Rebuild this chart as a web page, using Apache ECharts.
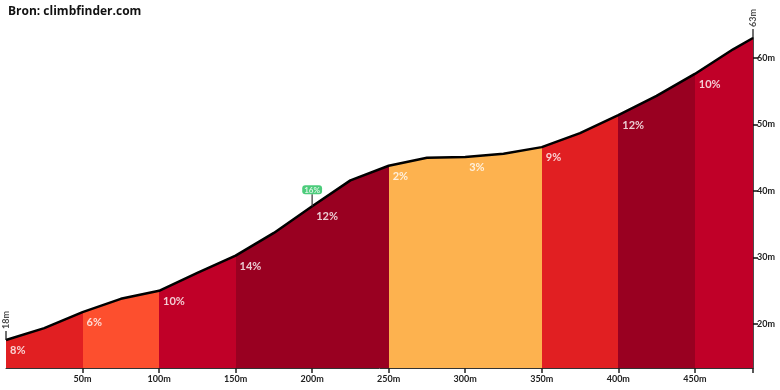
<!DOCTYPE html>
<html><head><meta charset="utf-8">
<script src="https://cdn.jsdelivr.net/npm/echarts@6/dist/echarts.min.js"></script>
<style>html,body{margin:0;padding:0;background:#fff}#c{width:780px;height:390px}</style>
</head><body><div id="c"></div>
<script>
const dist = [0,25,50,75,100,125,150,175,200,225,250,275,300,325,350,375,400,425,450,475,488];
const elev = [17.6,19.4,21.8,23.8,25.0,27.7,30.3,33.7,37.7,41.6,43.8,45.0,45.1,45.6,46.6,48.7,51.4,54.3,57.6,61.3,63.0];
const segStart = [0,50,100,150,200,250,300,350,400,450];
const segEnd   = [50,100,150,200,250,300,350,400,450,488];
const segGrade = ['8%','6%','10%','14%','12%','2%','3%','9%','12%','10%'];
const segColor = ['#e11f22','#fd4f2e','#c00028','#990021','#990021','#fdb24f','#fdb24f','#e11f22','#990021','#c00028'];
const maxGrade = {d:200, text:'16%'};
const xTicks = [50,100,150,200,250,300,350,400,450];
const yTicks = [20,30,40,50,60];
const FONT = 'Lato';

function elevAt(d){ return elev[dist.indexOf(d)]; }
const profile = dist.map((d,j)=>[d,elev[j]]);

const series = [];
series.push({type:'line', data:profile, symbol:'none', silent:true, z:1,
  lineStyle:{width:0}, areaStyle:{opacity:1, origin:'start'}});
series.push({type:'line', data:profile, symbol:'none', z:3,
  lineStyle:{color:'#000', width:2.5}});
series.push({type:'scatter', z:4, clip:false, symbolSize:0,
  data:segStart.map((s,i)=>[s, elevAt(s), segGrade[i]]),
  label:{show:true, position:[4,5], formatter:p=>p.value[2], color:'#fff',
    fontFamily:FONT, fontWeight:'bold', fontSize:11}});
series.push({type:'scatter', z:5, clip:false, symbol:'rect', symbolSize:[1.5,12], symbolOffset:[0,'-50%'],
  itemStyle:{color:'#333'},
  data:[[maxGrade.d, elevAt(maxGrade.d), maxGrade.text]],
  label:{show:true, position:'top', distance:0, formatter:p=>p.value[2], color:'#fff',
    backgroundColor:'#1fbf5a', borderRadius:3, padding:[1,2,0,2], fontFamily:FONT, fontWeight:'bold', fontSize:8}});
const ends = [[dist[0], elev[0], Math.round(elev[0])+'m'], [dist[dist.length-1], elev[elev.length-1], Math.round(elev[elev.length-1])+'m']];
series.push({type:'scatter', z:5, clip:false, symbol:'rect', symbolSize:[1.5,9], symbolOffset:[0,'-50%'],
  itemStyle:{color:'#111'}, data:ends,
  label:{show:true, position:'top', distance:2, rotate:90, align:'left', verticalAlign:'middle',
    formatter:p=>p.value[2], color:'#222', fontFamily:FONT, fontWeight:'bold', fontSize:9}});

const chart = echarts.init(document.getElementById('c'));
chart.setOption({
  animation:false,
  title:{text:'Bron: climbfinder.com', left:3, top:1,
    textStyle:{fontFamily:'Open Sans', fontWeight:'bold', fontSize:12, color:'#111'}},
  grid:{left:6, right:27, top:38, bottom:22},
  visualMap:{show:false, type:'piecewise', dimension:0, seriesIndex:0,
    pieces:segStart.map((s,i)=>({gte:s, lt:(i===segStart.length-1? segEnd[i]+1 : segEnd[i]), color:segColor[i]}))},
  xAxis:{type:'value', min:0, max:488,
    axisLine:{onZero:false, lineStyle:{color:'#333', width:1}},
    axisTick:{show:true, length:5, lineStyle:{color:'#222', width:1.5}, customValues:xTicks.concat([488])},
    axisLabel:{customValues:xTicks, formatter:'{value}m', color:'#222', fontFamily:FONT, fontWeight:'bold', fontSize:9, margin:7},
    splitLine:{show:false}},
  yAxis:{type:'value', position:'right', min:13.4, max:63,
    axisLine:{show:true, onZero:false, lineStyle:{color:'#111', width:1.5}},
    axisTick:{show:true, length:5, lineStyle:{color:'#111', width:1.5}, customValues:yTicks},
    axisLabel:{customValues:yTicks, formatter:'{value}m', color:'#222', fontFamily:FONT, fontWeight:'bold', fontSize:9, margin:4},
    splitLine:{show:false}},
  series:series
});
</script></body></html>
